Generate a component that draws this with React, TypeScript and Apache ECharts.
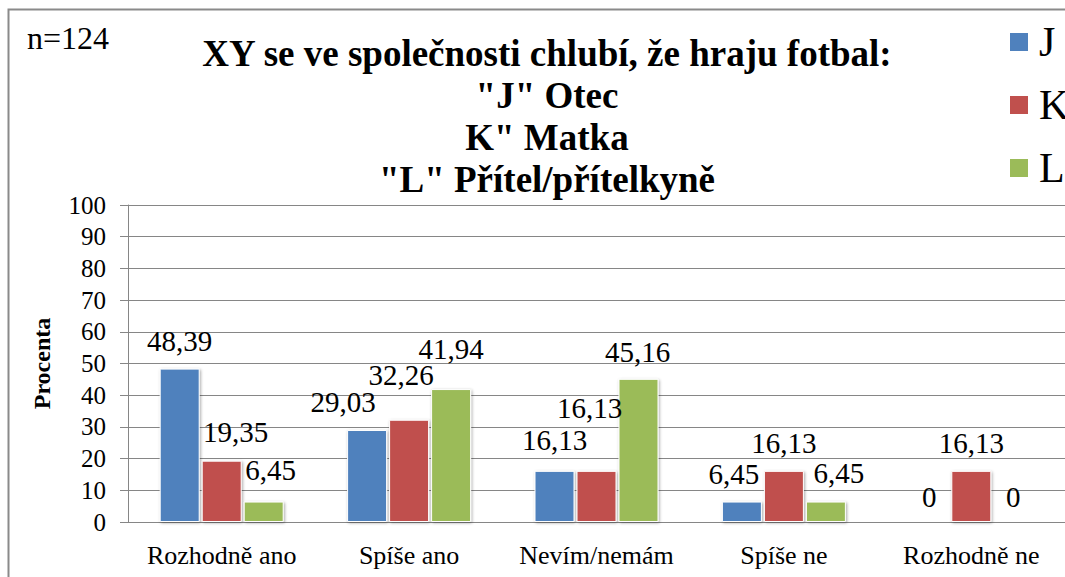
import React, { useEffect, useRef } from "react";
import * as echarts from "echarts";

const categories = ["Rozhodně ano", "Spíše ano", "Nevím/nemám", "Spíše ne", "Rozhodně ne"];
const seriesNames = ["J", "K", "L"];
const valuesJ = [48.39, 29.03, 16.13, 6.45, 0];
const valuesK = [19.35, 32.26, 16.13, 16.13, 16.13];
const valuesL = [6.45, 41.94, 45.16, 6.45, 0];
const yTicks = { min: 0, max: 100, interval: 10 };
const titleLines = ['XY se ve společnosti chlubí, že hraju fotbal:', '"J" Otec', 'K" Matka', '"L" Přítel/přítelkyně'];
const sampleNote = "n=124";
const yAxisName = "Procenta";

// layout-only nudges for data labels (dx, dy), like manually moved Excel labels
const labelNudges = [
  [[0, 0], [-24, 0], [0, -3], [-8, 0], [0, 3]],
  [[14, -1], [-8, -17], [-7, -35], [0, 0], [0, 0]],
  [[7, -4], [0, -13], [-1, 1], [13, -1], [0, 3]],
];

const colors = ["#4F81BD", "#C0504D", "#9BBB59"];
const FONT = "Liberation Serif";

const fmt = (v: number) => String(v).replace(".", ",");

export default function App() {
  const ref = useRef<HTMLDivElement>(null);
  useEffect(() => {
    if (!ref.current) return;
    const chart = echarts.init(ref.current, undefined, { renderer: "svg" });
    const all = [valuesJ, valuesK, valuesL];
    const series = all.map((vals, si) => ({
      name: seriesNames[si],
      type: "bar",
      barWidth: 40,
      barGap: "5%",
      itemStyle: {
        color: colors[si],
        borderColor: "#ffffff",
        borderWidth: 1,
        shadowBlur: 3,
        shadowColor: "rgba(0,0,0,0.35)",
        shadowOffsetX: 1,
        shadowOffsetY: 1,
      },
      label: {
        show: true,
        position: "top",
        distance: 13,
        fontFamily: FONT,
        fontSize: 29,
        color: "#000",
        formatter: (p: any) => fmt(p.value),
      },
      data: vals.map((v, ci) => ({
        value: v,
        label: { offset: labelNudges[si][ci] },
      })),
    }));

    chart.setOption({
      animation: false,
      backgroundColor: "#ffffff",
      textStyle: { fontFamily: FONT },
      title: {
        text: titleLines.join("\n"),
        left: 542,
        textAlign: "center",
        top: 27,
        textStyle: {
          fontFamily: FONT,
          fontWeight: "bold",
          fontSize: 37,
          lineHeight: 42,
          color: "#000",
        },
      },
      legend: {
        orient: "vertical",
        left: 1008,
        top: 21,
        padding: 0,
        itemWidth: 20,
        itemHeight: 20,
        itemGap: 21,
        icon: "rect",
        textStyle: { fontFamily: FONT, fontSize: 42, lineHeight: 42, color: "#000", padding: [0, 0, 0, 5] },
        data: seriesNames,
      },
      grid: { left: 128, top: 205, width: 938, height: 317 },
      xAxis: {
        type: "category",
        data: categories,
        axisLine: { lineStyle: { color: "#868686", width: 1 } },
        axisTick: { show: false },
        axisLabel: { fontFamily: FONT, fontSize: 26, color: "#000", margin: 20, interval: 0 },
      },
      yAxis: {
        type: "value",
        min: yTicks.min,
        max: yTicks.max,
        interval: yTicks.interval,
        name: yAxisName,
        nameLocation: "middle",
        nameGap: 74,
        nameRotate: 90,
        nameTextStyle: { fontFamily: FONT, fontWeight: "bold", fontSize: 24, color: "#000" },
        axisLine: { show: true, lineStyle: { color: "#868686", width: 1 } },
        axisTick: { show: true, length: 8, lineStyle: { color: "#868686" } },
        splitLine: { lineStyle: { color: "#868686", width: 1 } },
        axisLabel: { fontFamily: FONT, fontSize: 25, color: "#000", margin: 22 },
      },
      graphic: [
        {
          type: "rect",
          shape: { x: 8.5, y: 9.5, width: 1200, height: 700 },
          style: { fill: "none", stroke: "#8a8a8a", lineWidth: 2 },
          silent: true,
          z: -1,
        },
        {
          type: "text",
          left: 27,
          top: 22,
          style: { text: sampleNote, fontFamily: FONT, fontSize: 32, fill: "#000" },
        },
      ],
      series,
    });
    return () => chart.dispose();
  }, []);
  return (
    <div
      ref={ref}
      style={{ position: "absolute", left: 0, top: 0, width: 1065, height: 577 }}
    />
  );
}
